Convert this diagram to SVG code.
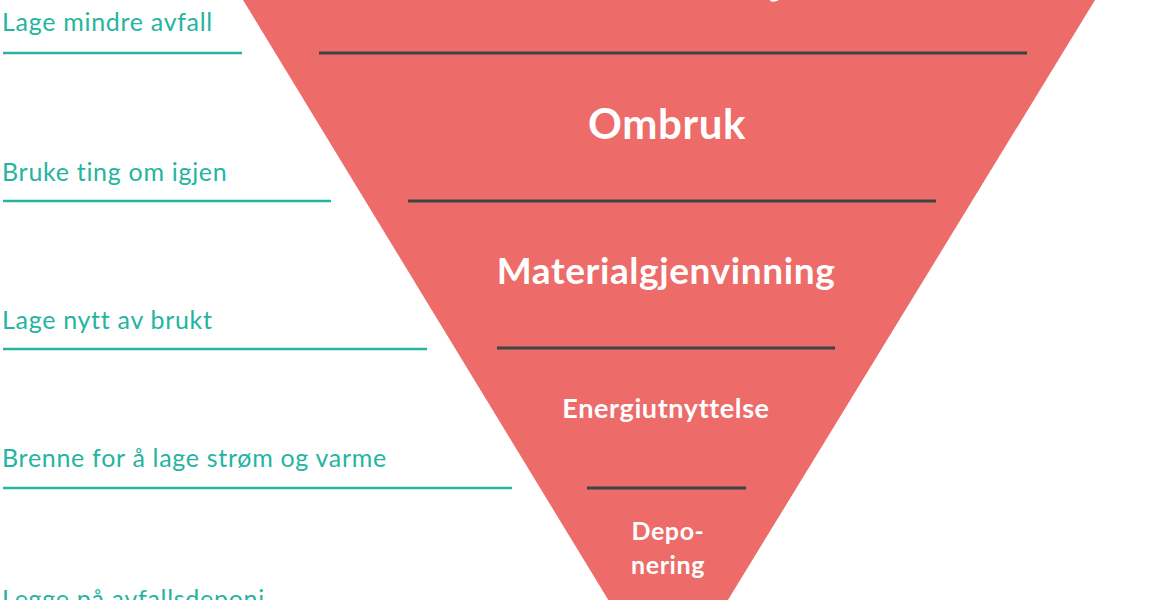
<svg xmlns="http://www.w3.org/2000/svg" width="1153" height="600" viewBox="0 0 1153 600">
<style>
.lbl{font-family:Lato,"Open Sans",sans-serif;font-size:25px;letter-spacing:0.7px;fill:#25b49f}
.tl{stroke:#25b49f;stroke-width:2.5}
.dl{stroke:#3a4644;stroke-width:3}
.t{font-family:Lato,"Open Sans",sans-serif;font-weight:bold;fill:#fff;text-anchor:middle;letter-spacing:0.6px}
</style>
<rect width="1153" height="600" fill="#fff"/>
<g id="pyramid">
<polygon points="243,0 1095,0 668,698" fill="#ed6b69"/>
<text class="t" x="668" y="-6" font-size="44">Avfallsreduksjon</text>
<text class="t" x="667" y="139" font-size="42">Ombruk</text>
<text class="t" x="666" y="284" font-size="37">Materialgjenvinning</text>
<text class="t" x="666" y="418" font-size="27">Energiutnyttelse</text>
<text class="t" x="668" y="540" font-size="25">Depo-</text>
<text class="t" x="668" y="574" font-size="25">nering</text>
</g>
<g id="connectors">
<line class="dl" x1="319" y1="53" x2="1027" y2="53"/>
<line class="dl" x1="408" y1="201" x2="936" y2="201"/>
<line class="dl" x1="497" y1="348" x2="835" y2="348"/>
<line class="dl" x1="587" y1="488" x2="746" y2="488"/>
<line class="tl" x1="3" y1="53" x2="242" y2="53"/>
<line class="tl" x1="3" y1="201" x2="331" y2="201"/>
<line class="tl" x1="3" y1="349" x2="427" y2="349"/>
<line class="tl" x1="3" y1="488" x2="512" y2="488"/>
</g>
<g id="labels">
<text class="lbl" x="2" y="31">Lage mindre avfall</text>
<text class="lbl" x="2" y="181">Bruke ting om igjen</text>
<text class="lbl" x="2" y="329">Lage nytt av brukt</text>
<text class="lbl" x="2" y="467">Brenne for å lage strøm og varme</text>
<text class="lbl" x="2" y="608">Legge på avfallsdeponi</text>
</g>
</svg>
